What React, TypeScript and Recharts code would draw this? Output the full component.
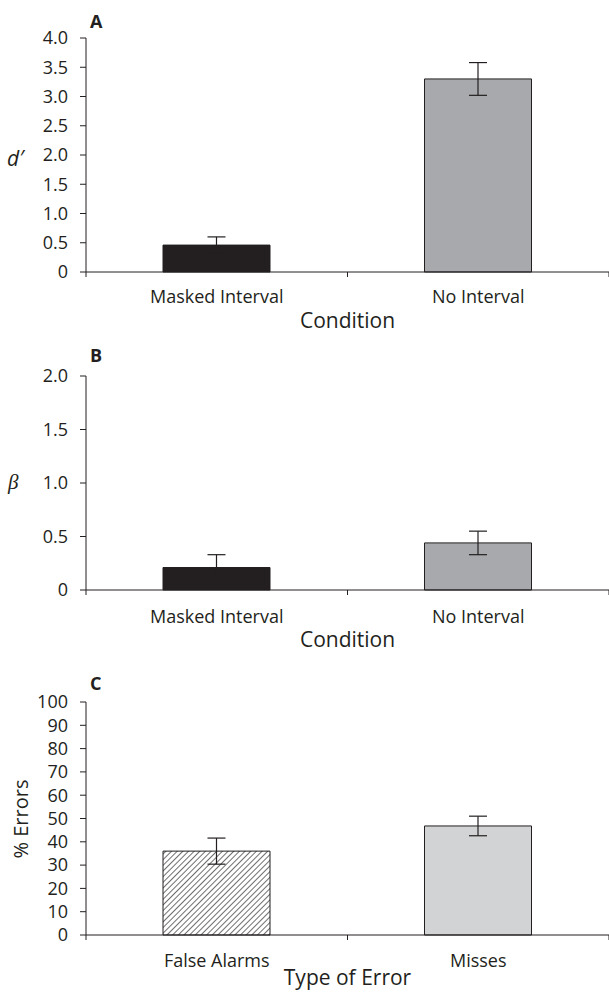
// Three stacked bar panels (d', beta, % errors) with error bars.
import { BarChart, Bar, XAxis, YAxis, ErrorBar, Cell, Label } from 'recharts';

const conditions = ['Masked Interval', 'No Interval'];
const dPrime = [0.46, 3.3];
const dPrimeErr = [0.14, 0.28];
const beta = [0.21, 0.44];
const betaErr = [0.12, 0.11];

const errorTypes = ['False Alarms', 'Misses'];
const pctErrors = [36, 46.8];
const pctErrorsErr = [5.6, 4.2];

const dTicks = [0, 0.5, 1, 1.5, 2, 2.5, 3, 3.5, 4];
const betaTicks = [0, 0.5, 1, 1.5, 2];
const pctTicks = [0, 10, 20, 30, 40, 50, 60, 70, 80, 90, 100];

const INK = '#231f20';
const FONT = '"Open Sans", sans-serif';
const W = 609;

const fillsAB = [INK, '#a7a9ac'];
const fillsC = ['url(#hatch)', '#d1d3d4'];

const oneDecimal = (v: number) => (v === 0 ? '0' : v.toFixed(1));
const plain = (v: number) => String(v);

function CategoryTick(props: any) {
  const { x, y, payload, labels, gap } = props;
  const v = payload.value as number;
  if (Number.isInteger(v)) {
    return <line x1={x} x2={x} y1={y} y2={y + 5} stroke={INK} strokeWidth={1} />;
  }
  return (
    <text x={x} y={y + gap} textAnchor="middle" fill={INK} fontSize={18} fontFamily={FONT}>
      {labels[Math.floor(v)]}
    </text>
  );
}

interface PanelProps {
  labels: string[];
  values: number[];
  errors: number[];
  ticks: number[];
  fills: string[];
  height: number;
  top: number;
  bottom: number;
  title: string;
  titleGap: number;
  tickGap: number;
  format: (v: number) => string;
}

function Panel({ labels, values, errors, ticks, fills, height, top, bottom, title, titleGap, tickGap, format }: PanelProps) {
  const data = labels.map((name, i) => ({ x: i + 0.5, name, value: values[i], err: errors[i] }));
  return (
    <BarChart width={W} height={height} data={data} margin={{ top, right: 0, bottom, left: 0 }}>
      <defs>
        <pattern id="hatch" width="4" height="4" patternUnits="userSpaceOnUse" patternTransform="rotate(45)">
          <rect width="4" height="4" fill="#ffffff" />
          <line x1="0" y1="0" x2="0" y2="4" stroke={INK} strokeWidth={1.3} />
        </pattern>
      </defs>
      <XAxis
        type="number"
        dataKey="x"
        domain={[0, 2]}
        ticks={[0, 0.5, 1, 1.5, 2]}
        interval={0}
        tickLine={false}
        tickSize={0}
        tickMargin={0}
        height={60}
        axisLine={{ stroke: INK, strokeWidth: 1 }}
        tick={<CategoryTick labels={labels} gap={tickGap} />}
      >
        <Label value={title} position="insideBottom" offset={60 - titleGap} fill={INK} fontSize={21} fontFamily={FONT} />
      </XAxis>
      <YAxis
        type="number"
        domain={[ticks[0], ticks[ticks.length - 1]]}
        ticks={ticks}
        interval={0}
        width={86}
        tickSize={6}
        tickMargin={12}
        tickFormatter={format}
        axisLine={{ stroke: INK, strokeWidth: 1 }}
        tickLine={{ stroke: INK, strokeWidth: 1 }}
        tick={{ fill: INK, fontSize: 18, fontFamily: FONT }}
      />
      <Bar dataKey="value" barSize={107} stroke={INK} strokeWidth={1} isAnimationActive={false}>
        {data.map((d, i) => (
          <Cell key={d.name} fill={fills[i]} />
        ))}
        <ErrorBar dataKey="err" width={9} stroke={INK} strokeWidth={1.2} direction="y" isAnimationActive={false} />
      </Bar>
    </BarChart>
  );
}

export default function App() {
  return (
    <div style={{ position: 'absolute', left: 0, top: 0, width: W, height: 1000, background: '#fff' }}>
      <Panel
        labels={conditions}
        values={dPrime}
        errors={dPrimeErr}
        ticks={dTicks}
        fills={fillsAB}
        height={340}
        top={38}
        bottom={8}
        title="Condition"
        titleGap={56}
        tickGap={31}
        format={oneDecimal}
      />
      <Panel
        labels={conditions}
        values={beta}
        errors={betaErr}
        ticks={betaTicks}
        fills={fillsAB}
        height={320}
        top={36}
        bottom={10}
        title="Condition"
        titleGap={57}
        tickGap={33}
        format={oneDecimal}
      />
      <Panel
        labels={errorTypes}
        values={pctErrors}
        errors={pctErrorsErr}
        ticks={pctTicks}
        fills={fillsC}
        height={340}
        top={42}
        bottom={5}
        title="Type of Error"
        titleGap={50}
        tickGap={32}
        format={plain}
      />
      <svg
        width={W}
        height={1000}
        style={{ position: 'absolute', left: 0, top: 0, pointerEvents: 'none' }}
      >
        <g fill={INK} fontFamily={FONT} fontWeight={700} fontSize={18}>
          <text x={90} y={28}>A</text>
          <text x={90} y={362}>B</text>
          <text x={90} y={690}>C</text>
        </g>
        <text x={7} y={166} fill={INK} fontFamily={FONT} fontStyle="italic" fontSize={21}>d′</text>
        <text x={8} y={489} fill={INK} fontFamily='"Liberation Serif", serif' fontStyle="italic" fontSize={21}>β</text>
        <text
          x={28}
          y={819}
          fill={INK}
          fontFamily={FONT}
          fontSize={20}
          textAnchor="middle"
          transform="rotate(-90, 28, 819)"
        >
          % Errors
        </text>
      </svg>
    </div>
  );
}
